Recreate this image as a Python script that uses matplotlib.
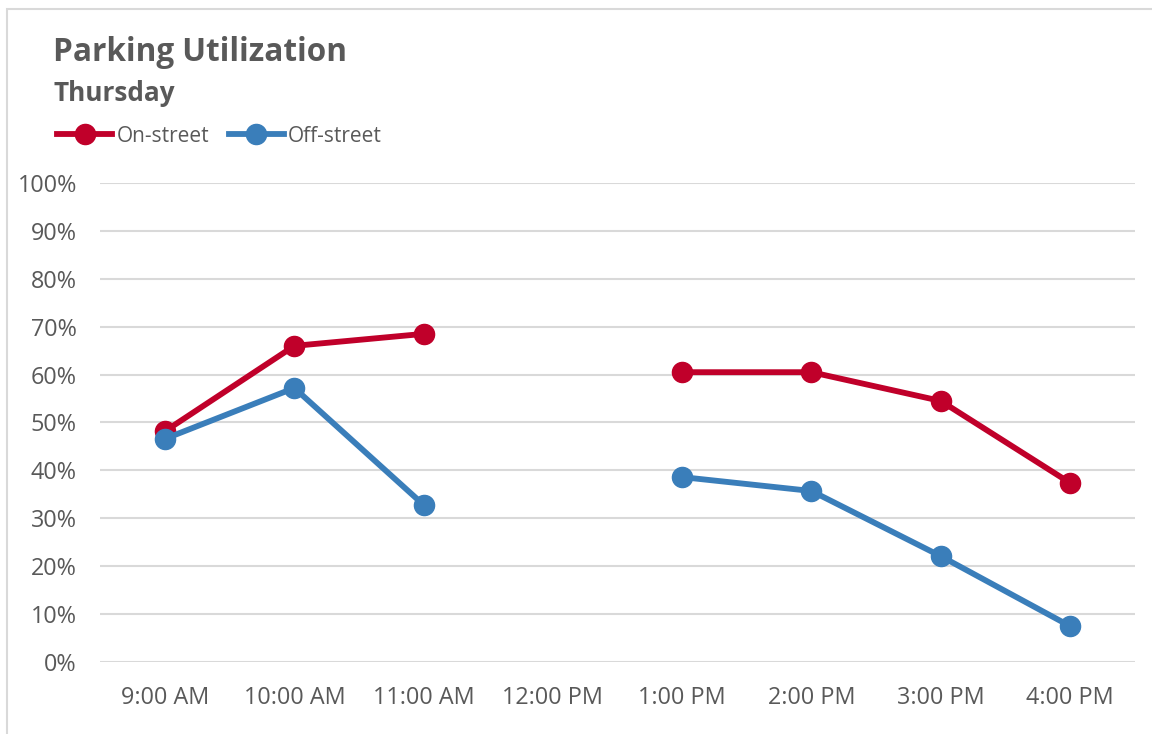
import numpy as np
import matplotlib.pyplot as plt
from matplotlib.patches import Rectangle

hours = ["9:00 AM", "10:00 AM", "11:00 AM", "12:00 PM",
         "1:00 PM", "2:00 PM", "3:00 PM", "4:00 PM"]
# no count at noon -> nan leaves a gap in both lines
on_street = [48.2, 66.0, 68.5, np.nan, 60.5, 60.5, 54.5, 37.4]
off_street = [46.6, 57.2, 32.8, np.nan, 38.6, 35.7, 22.1, 7.5]

red = '#C0002A'
blue = '#3A7EBA'
grey_txt = '#595959'

plt.rcParams['font.family'] = ['Open Sans', 'DejaVu Sans']

fig = plt.figure(figsize=(11.52, 7.34), dpi=100)
ax = fig.add_axes([0.0872, 0.0981, 0.8977, 0.6526])

# chart frame (only left and top edges visible)
fig.add_artist(Rectangle((7 / 1152, -0.1), 1.2, 1 - 9 / 734 + 0.1,
                         transform=fig.transFigure, fill=False,
                         edgecolor='#D9D9D9', linewidth=1.5))

x = np.arange(len(hours))
ax.plot(x, on_street, color=red, lw=4.2, marker='o', ms=14.5,
        label='On-street', zorder=3)
ax.plot(x, off_street, color=blue, lw=4.2, marker='o', ms=14.5,
        label='Off-street', zorder=4)

ax.set_xlim(-0.5, len(hours) - 0.5)
ax.set_ylim(0, 100)
ax.set_yticks(np.arange(0, 101, 10))
ax.set_yticklabels([f'{v}%' for v in range(0, 101, 10)])
ax.set_xticks(x)
ax.set_xticklabels(hours)
ax.grid(axis='y', color='#D9D9D9', lw=1.5)
ax.set_axisbelow(True)
for s in ax.spines.values():
    s.set_visible(False)
ax.tick_params(length=0, labelsize=16.8, colors=grey_txt)
ax.tick_params(axis='x', pad=17)
ax.tick_params(axis='y', pad=17)

fig.text(53 / 1152, 1 - 61 / 734, 'Parking Utilization', fontsize=22.7,
         fontweight='bold', color=grey_txt, va='baseline', ha='left')
fig.text(53 / 1152, 1 - 101 / 734, 'Thursday', fontsize=18.8,
         fontweight='bold', color=grey_txt, va='baseline', ha='left')

ax.legend(loc='center left', bbox_to_anchor=(57 / 1152, 1 - 136 / 734),
          bbox_transform=fig.transFigure, ncol=2, frameon=False,
          fontsize=15, labelcolor=grey_txt, handlelength=2.65,
          handletextpad=0.2, columnspacing=0.95, borderpad=0, borderaxespad=0)

plt.savefig('out.png')
